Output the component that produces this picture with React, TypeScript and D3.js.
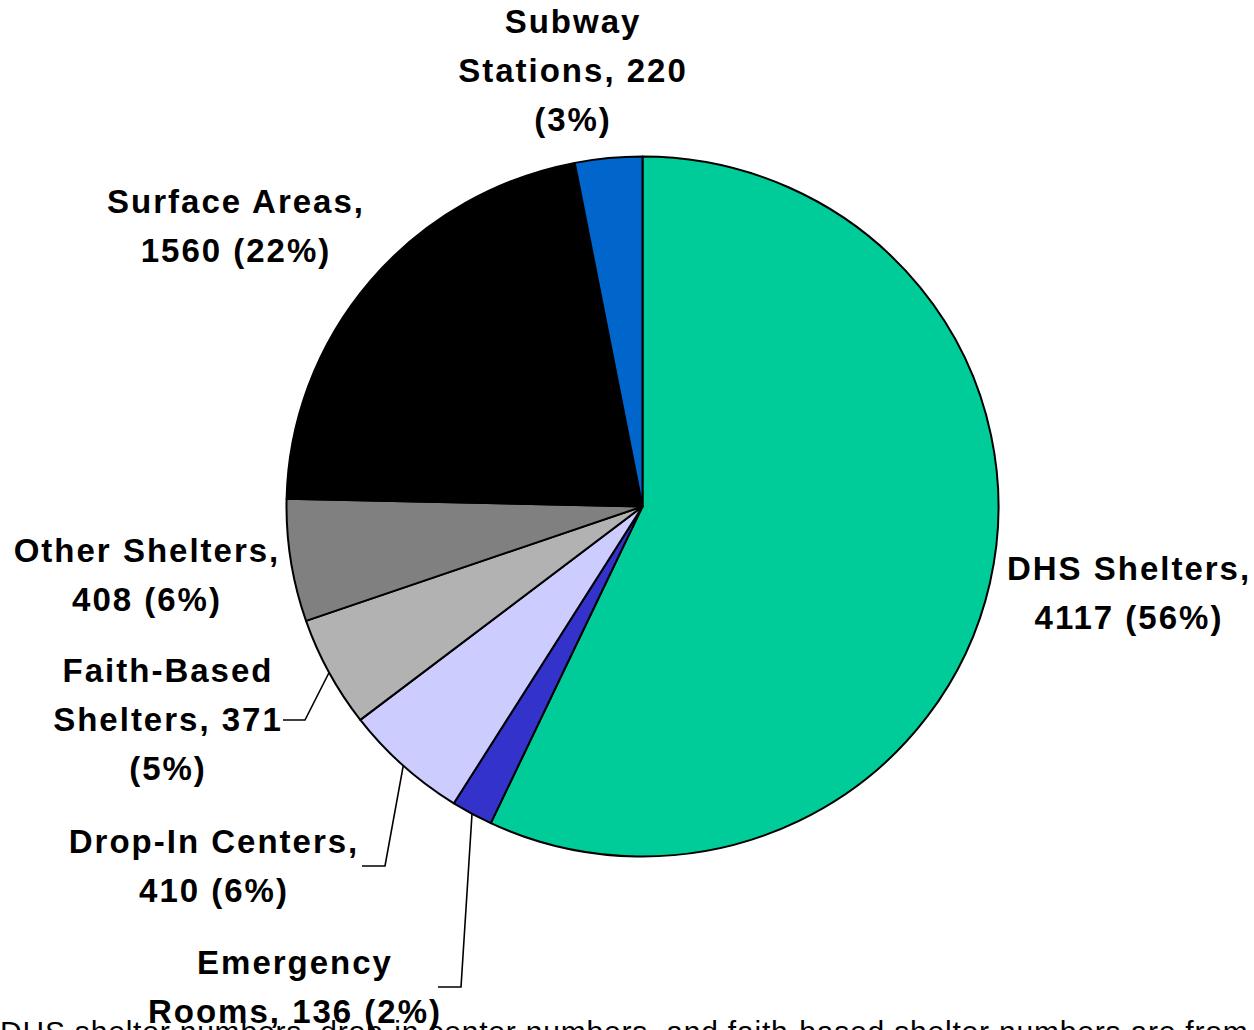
import React from "react";
import * as d3 from "d3";

const categories = [
  "DHS Shelters",
  "Emergency Rooms",
  "Drop-In Centers",
  "Faith-Based Shelters",
  "Other Shelters",
  "Surface Areas",
  "Subway Stations",
];
const values = [4117, 136, 410, 371, 408, 1560, 220];
const percentLabels = ["56%", "2%", "6%", "5%", "6%", "22%", "3%"];
const colors = ["#00CC99", "#3333CC", "#CCCCFF", "#B2B2B2", "#808080", "#000000", "#0066CC"];

// label text lines per slice
const labelLines = [
  ["DHS Shelters,", "4117 (56%)"],
  ["Emergency", "Rooms, 136 (2%)"],
  ["Drop-In Centers,", "410 (6%)"],
  ["Faith-Based", "Shelters, 371", "(5%)"],
  ["Other Shelters,", "408 (6%)"],
  ["Surface Areas,", "1560 (22%)"],
  ["Subway", "Stations, 220", "(3%)"],
];

// layout: label anchor (center x, first baseline y) and optional leader elbow
const labelLayout = [
  { x: 1129, y: 580, leader: null },
  { x: 295, y: 974, leader: { ex: 461, ey: 987, hx: 438 } },
  { x: 214, y: 853, leader: { ex: 385, ey: 866, hx: 362 } },
  { x: 168, y: 682, leader: { ex: 305, ey: 720, hx: 283 } },
  { x: 147, y: 562, leader: null },
  { x: 236, y: 213, leader: null },
  { x: 573, y: 33, leader: null },
];

const footnote =
  "DHS shelter numbers, drop-in center numbers, and faith-based shelter numbers are from";

const W = 1254;
const H = 1030;
const cx = 642.5;
const cy = 506.5;
const rx = 356;
const ry = 350;
const LINE_H = 49;

export default function App() {
  const pie = d3
    .pie<number>()
    .sort(null)
    .value((d) => d)
    .startAngle(0)
    .endAngle(2 * Math.PI);
  const arcs = pie(values);
  const arc = d3.arc<d3.PieArcDatum<number>>().innerRadius(0).outerRadius(rx);
  const sy = ry / rx;

  return (
    <svg
      width={W}
      height={H}
      style={{ position: "absolute", left: 0, top: 0, background: "#fff" }}
      fontFamily="'Liberation Sans', Arial, sans-serif"
    >
      <rect width={W} height={H} fill="#fff" />
      <g transform={`translate(${cx},${cy}) scale(1,${sy})`}>
        {arcs.map((a, i) => (
          <path
            key={categories[i]}
            d={arc(a) || ""}
            fill={colors[i]}
            stroke="#000"
            strokeWidth={2}
            strokeLinejoin="round"
          />
        ))}
      </g>
      {arcs.map((a, i) => {
        const lay = labelLayout[i];
        if (!lay.leader) return null;
        const mid = (a.startAngle + a.endAngle) / 2;
        const px = cx + rx * Math.sin(mid);
        const py = cy - ry * Math.cos(mid);
        return (
          <polyline
            key={"l" + i}
            points={`${px},${py} ${lay.leader.ex},${lay.leader.ey} ${lay.leader.hx},${lay.leader.ey}`}
            fill="none"
            stroke="#000"
            strokeWidth={1.6}
          />
        );
      })}
      {labelLines.map((lines, i) => {
        const lay = labelLayout[i];
        return (
          <text
            key={"t" + i}
            textAnchor="middle"
            fontWeight="bold"
            fontSize={33}
            letterSpacing={2}
            fill="#000"
            data-value={values[i]}
            data-pct={percentLabels[i]}
          >
            {lines.map((ln, j) => (
              <tspan key={j} x={lay.x} y={lay.y + j * LINE_H}>
                {ln}
              </tspan>
            ))}
          </text>
        );
      })}
      <text x={0} y={1042} fontSize={30} letterSpacing={0.8} fill="#000">
        {footnote}
      </text>
    </svg>
  );
}
